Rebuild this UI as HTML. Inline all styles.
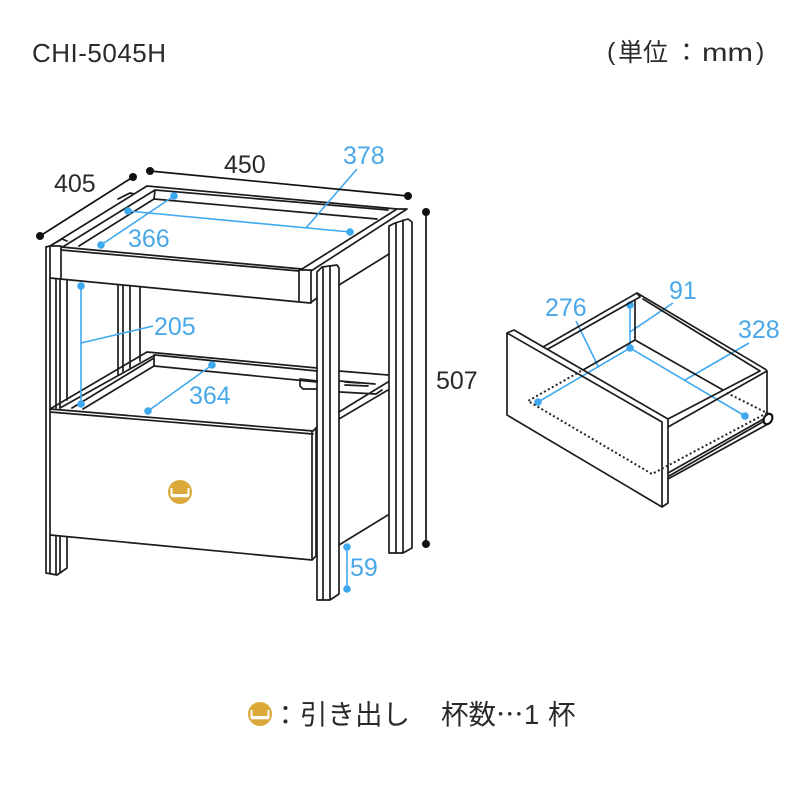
<!DOCTYPE html>
<html><head><meta charset="utf-8"><style>
html,body{margin:0;padding:0;background:#fff}
svg{display:block}
text{font-family:"Liberation Sans","Noto Sans CJK JP",sans-serif;font-size:25px;fill:#2a2a2a}
.b{fill:#4aa8e8}
.k path{fill:none;stroke:#1c1c1c;stroke-width:1.7;stroke-linejoin:round;stroke-linecap:round}
.bl path{fill:none;stroke:#3fa9f0;stroke-width:1.6}
.bd circle{fill:#3fa9f0}
.d circle{fill:#111}
</style></head><body>
<svg width="800" height="800" viewBox="0 0 800 800" xmlns="http://www.w3.org/2000/svg">
<text x="32" y="62" textLength="134" style="font-size:26px">CHI-5045H</text>
<text x="607" y="60">(</text>
<text x="618" y="61">単位</text>
<text x="674" y="61">：</text>
<text x="702" y="61" textLength="51" lengthAdjust="spacingAndGlyphs">mm</text>
<text x="756" y="60">)</text>

<g class="k">
<!-- top frame -->
<path d="M50 246L147 186L397 209H407L311 271M61 248L155 190L388 210M397 209L302 269M79 246L154 199L377 219M155 190L154 199M118 199L130 193L134 194M50 246L62 239L67 241"/>
<!-- front rail -->
<path d="M61 247L302 269M61 250L299 271M50 278L310 303L317 298M61 247V279M299 270V302M311 271V303M299 270H311M46 247L50 246H61"/>
<!-- left front post -->
<path d="M46 247V573L57 575L67 568V537M50 246V409M50 535V573M56 279V408M60 279V408M67 281V400M56 537V574M60 537V573"/>
<!-- left back post -->
<path d="M118 285V375M123 286V372M130 286V368M140 287V361"/>
<!-- right front post -->
<path d="M317 272L322 267L337 265L339 268V594L330 600L317 600V272M323 267V600M330 266V600"/>
<!-- right back post -->
<path d="M389 226L395 223L408 219L412 222V548L403 553H389V226M396 223V553M403 220V553"/>
<!-- side rails -->
<path d="M339 285L389 254M339 412L388 382M339 419L388 390M339 545L388 515M339 371L388 375"/>
<!-- shelf -->
<path d="M50 409L147 352L317 368M60 408L155 355L317 371M72 408L154 358M83 409L154 366L317 382M154 355V366"/>
<path d="M300 379L317 381M300 379V386L303 389H317M340 381L375 384M340 392L376 394L382 390"/>
<path d="M345 382L360 383M345 385L368 386"/>
<!-- drawer -->
<path d="M50 409L313 431L317 427M50 412L313 434M50 409V535L312 560V431M316 430V556L312 560"/>
</g>

<g class="bl">
<path d="M128 211L350 232M306 228L357 169M101 245L174 196M81 286V404M81 343L153 326M148 411L212 365M347 547V589"/>
<path d="M630 305V348M538 402L630 348L745 416M630 332L673 303M576 321L598 366M685 380L749 343"/>
</g>
<g class="bd">
<circle cx="128" cy="211" r="3.800"/><circle cx="350" cy="232" r="3.800"/>
<circle cx="101" cy="245" r="3.800"/><circle cx="174" cy="196" r="3.800"/>
<circle cx="81" cy="286" r="3.800"/><circle cx="81" cy="404" r="3.800"/>
<circle cx="148" cy="411" r="3.800"/><circle cx="212" cy="365" r="3.800"/>
<circle cx="347" cy="547" r="3.800"/><circle cx="347" cy="589" r="3.800"/>
<circle cx="630" cy="305" r="3.800"/><circle cx="630" cy="348" r="3.800"/>
<circle cx="538" cy="402" r="3.800"/><circle cx="745" cy="416" r="3.800"/>
</g>

<!-- black dimensions -->
<g class="k"><path d="M40 236L133 177M150 171L408 196M426 212V544" style="stroke:#111"/></g>
<g class="d">
<circle cx="40" cy="236" r="4"/><circle cx="133" cy="177" r="4"/>
<circle cx="150" cy="171" r="4"/><circle cx="408" cy="196" r="4"/>
<circle cx="426" cy="212" r="4"/><circle cx="426" cy="544" r="4"/>
</g>

<text x="54" y="192">405</text>
<text x="224" y="173">450</text>
<text x="436" y="389">507</text>
<text class="b" x="343" y="164">378</text>
<text class="b" x="128" y="247">366</text>
<text class="b" x="154" y="335">205</text>
<text class="b" x="189" y="404">364</text>
<text class="b" x="350" y="576">59</text>
<text class="b" x="545" y="316">276</text>
<text class="b" x="669" y="299">91</text>
<text class="b" x="738" y="338">328</text>

<!-- drawer right -->
<g class="k">
<path d="M507 333L514 330L668 419V503L662 507L507 415V333M507 333L662 422V507"/>
<path d="M543 347L637 293L640 297L548 349M635 300V340L583 370"/>
<path d="M637 293L765 369L767 371L668 427M643 299L760 371L668 419M635 340L723 390M767 371V413"/>
<path d="M668 473L767 417M668 479L768 424M669 476L766 420"/>
</g>
<ellipse cx="768" cy="419" rx="4" ry="5.500" transform="rotate(30 768 419)" fill="#fff" stroke="#111" stroke-width="2.200"/>
<path d="M581 371L528 401L652 474L767 413L725 392" fill="none" stroke="#222" stroke-width="2" stroke-dasharray="2 2.500"/>

<!-- icons -->
<circle cx="180" cy="492" r="12" fill="#dba93a"/><path d="M171.500 488V495H188.500V488" fill="none" stroke="#fff" stroke-width="2"/><path d="M171 496H189" stroke="#fff" stroke-width="2.500"/>
<circle cx="260" cy="714" r="12" fill="#dba93a"/><path d="M251.500 710V717H268.500V710" fill="none" stroke="#fff" stroke-width="2"/><path d="M251 718H269" stroke="#fff" stroke-width="2.500"/>

<text x="272" y="725" style="font-size:27px">：</text>
<text x="300" y="724" style="font-size:27.500px">引き出し</text>
<text x="441" y="724" style="font-size:27.500px">杯数</text>
<text x="496" y="724" style="font-size:27.500px;font-family:'Noto Sans CJK JP',sans-serif">…</text>
<text x="524" y="724" style="font-size:27.500px">1</text>
<text x="548" y="724" style="font-size:27.500px">杯</text>
</svg>
</body></html>
